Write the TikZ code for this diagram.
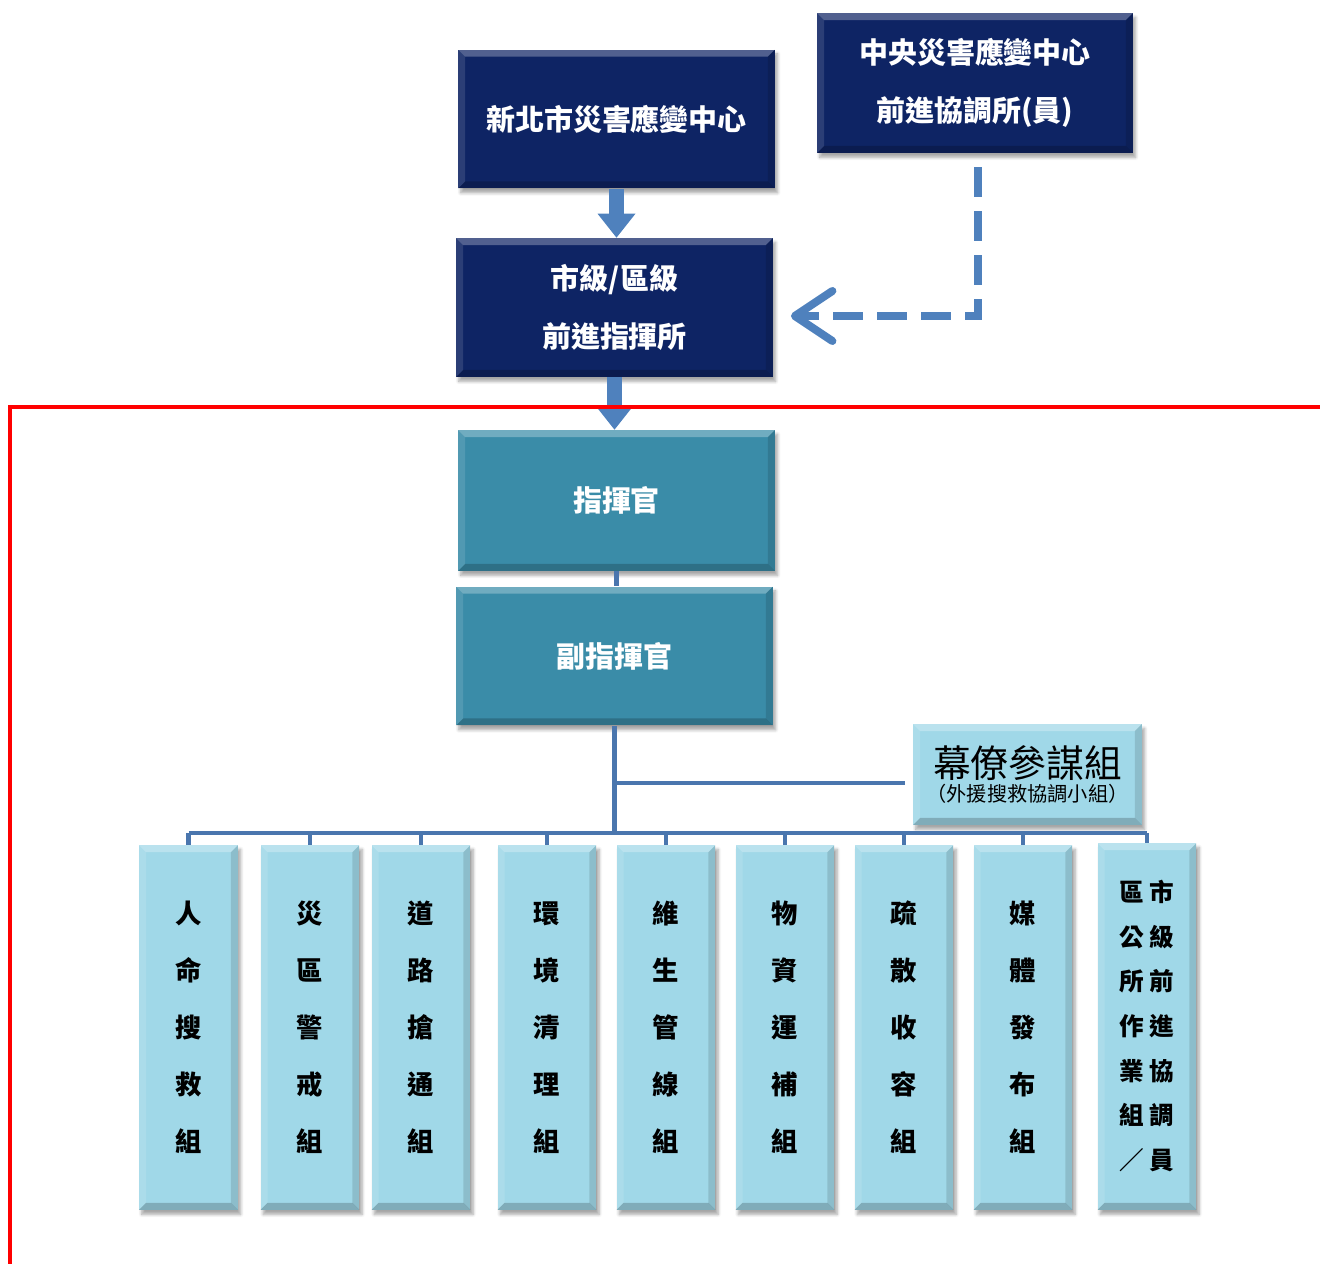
\documentclass[tikz,border=0pt]{standalone}
\usepackage{fontspec}
\newfontfamily\cjk{Noto Sans CJK TC}
\usepackage{xcolor}
\usepackage{tikz}
\usetikzlibrary{shadows.blur}
\usetikzlibrary{arrows.meta, positioning}

\definecolor{navybox}{HTML}{0E2464}
\definecolor{tealbox}{HTML}{3A8CA8}
\definecolor{skybox}{HTML}{A0D8E8}
\definecolor{linkblue}{HTML}{4A76AE}
\definecolor{arrowblue}{HTML}{4F81BD}

\tikzset{
    bevel/.style = {path picture = {
        \path (path picture bounding box.north west) coordinate (bvA)
              (path picture bounding box.north east) coordinate (bvB)
              (path picture bounding box.south east) coordinate (bvC)
              (path picture bounding box.south west) coordinate (bvD);
        \fill [white, opacity=.28] (bvA) -- (bvB) -- ([shift={(-4pt,-4pt)}]bvB) -- ([shift={(4pt,-4pt)}]bvA) -- cycle;
        \fill [white, opacity=.12] (bvA) -- ([shift={(4pt,-4pt)}]bvA) -- ([shift={(4pt,4pt)}]bvD) -- (bvD) -- cycle;
        \fill [black, opacity=.20] (bvD) -- (bvC) -- ([shift={(-4pt,4pt)}]bvC) -- ([shift={(4pt,4pt)}]bvD) -- cycle;
        \fill [black, opacity=.12] (bvB) -- (bvC) -- ([shift={(-4pt,4pt)}]bvC) -- ([shift={(-4pt,-4pt)}]bvB) -- cycle;
    }},
    card/.style = {rectangle, inner sep=0pt, align=center, bevel,
        blur shadow={shadow xshift=1.5pt, shadow yshift=-2.5pt, shadow opacity=35, shadow blur steps=6}},
    navy/.style = {card, fill=navybox, text=white, minimum width=6.34cm, minimum height=2.78cm,
        font=\cjk\bfseries\fontsize{16.5}{33}\selectfont},
    teal/.style = {navy, fill=tealbox},
    staffbox/.style = {card, fill=skybox, text=black, minimum width=4.58cm, minimum height=2.02cm},
    group/.style = {card, fill=skybox, text=black, minimum width=1.98cm, minimum height=7.3cm,
        font=\cjk\bfseries\fontsize{15}{32.4}\selectfont},
    link/.style = {draw=linkblue, line width=2.4pt},
    blockarrow/.style = {color=arrowblue, line width=0.3cm,
        -{Triangle[width=0.76cm, length=0.48cm, line width=0pt]}},
    dashlink/.style = {color=arrowblue, line width=0.16cm, dash pattern=on 0.6cm off 0.28cm,
        -{Straight Barb[length=0.75cm, width=1cm, round]}},
    redframe/.style = {draw=red, line width=0.08cm}
}

\begin{document}
\begin{tikzpicture}[x=0.02cm, y=-0.02cm]
    \useasboundingbox (0,0) rectangle (1320,1264);

    % command chain
    \node (city) [navy] at (616.5,119) {新北市災害應變中心};
    \node (central) [navy, minimum width=6.32cm, minimum height=2.8cm] at (975,83) {中央災害應變中心\\前進協調所(員)};
    \node (fwd) [navy] at (614.5,307.5) {市級/區級\\前進指揮所};
    \node (chief) [teal, minimum height=2.82cm] at (616.5,500.5) {指揮官};
    \node (deputy) [teal] at (614.5,656) {副指揮官};
    \node (staff) [staffbox] at (1027.5,774.5)
        {{\cjk\fontsize{21.5}{24}\selectfont 幕僚參謀組}\\[2pt]{\cjk\fontsize{11.5}{13}\selectfont （外援搜救協調小組）}};

    % working groups
    \foreach \n/\x/\t in {1/188.5/人\\命\\搜\\救\\組, 2/310/災\\區\\警\\戒\\組, 3/421/道\\路\\搶\\通\\組,
                          4/547/環\\境\\清\\理\\組, 5/666/維\\生\\管\\線\\組, 6/785/物\\資\\運\\補\\組,
                          7/904/疏\\散\\收\\容\\組, 8/1023/媒\\體\\發\\布\\組}
        \node (g\n) [group] at (\x,1027.5) {\t};
    \node (g9) [group, minimum height=7.34cm] at (1147,1026.5)
        {\fontsize{14}{25.4}\selectfont\begin{tabular}{@{}c@{\hspace{3pt}}c@{}}
            區&市\\公&級\\所&前\\作&進\\業&協\\組&調\\／&員
        \end{tabular}};

    % connectors
    \coordinate (bus) at (615,833);
    \coordinate (staffin) at (905,783);
    \coordinate (turn) at (978,316);
    \path [blockarrow] (city.south) edge (city.south |- fwd.north)
        (fwd.south) edge (fwd.south |- chief.north);
    \draw [dashlink] ([yshift=-8pt]central.south -| turn) -- (turn) -- ([xshift=10pt]fwd.east |- turn);
    \draw [link] (chief.south) -- (chief.south |- deputy.north);
    \draw [link] (deputy.south) -- (deputy.south |- bus);
    \draw [link] (deputy.south |- staffin) -- (staffin);
    \draw [link] (g1.north |- bus) -- (g9.north |- bus);
    \foreach \n in {1,...,9}
        \draw [link] (g\n.north |- bus) -- (g\n.north);

    % area frame
    \draw [redframe] (10,1270) -- (10,407) -- (1330,407);
\end{tikzpicture}
\end{document}
